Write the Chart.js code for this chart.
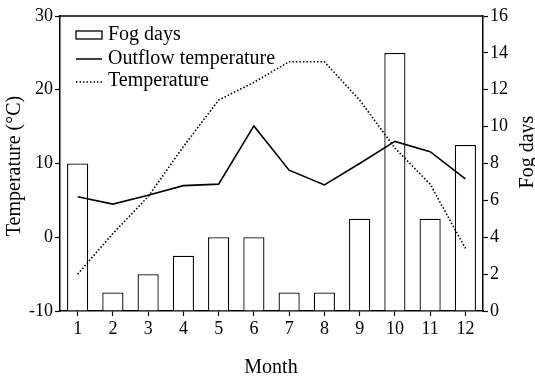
<!DOCTYPE html>
<html>
<head>
<meta charset="utf-8">
<script src="https://cdn.jsdelivr.net/npm/chart.js@4/dist/chart.umd.min.js"></script>
<style>
  html, body { margin: 0; padding: 0; background: #fff; }
  #wrap { width: 535px; height: 380px; }
</style>
</head>
<body>
<div id="wrap"><canvas id="fogChart" width="535" height="380"></canvas></div>
<script>
const months = ['1', '2', '3', '4', '5', '6', '7', '8', '9', '10', '11', '12'];
const fogDays = [8, 1, 2, 3, 4, 4, 1, 1, 5, 14, 5, 9];
const outflowTemp = [5.5, 4.5, 5.7, 7, 7.2, 15.1, 9.1, 7.1, 10, 13, 11.6, 7.9];
const airTemp = [-5, 0.5, 5.5, 12.3, 18.6, 21, 23.8, 23.8, 18.6, 12.1, 7.2, -1.5];
const tempTicks = [-10, 0, 10, 20, 30];
const fogTicks = [0, 2, 4, 6, 8, 10, 12, 14, 16];

const serif = '"Liberation Serif", "DejaVu Serif", serif';

// top border, legend and axis titles drawn by hand
const boxAndLegend = {
  id: 'boxAndLegend',
  afterDraw(chart) {
    const c = chart.ctx;
    const a = chart.chartArea;
    c.save();
    c.strokeStyle = '#000';
    c.lineWidth = 1.5;
    c.beginPath();
    c.moveTo(a.left, a.top);
    c.lineTo(a.right, a.top);
    c.stroke();

    const x0 = 76, x1 = 102, tx = 108;
    c.font = '20px ' + serif;
    c.fillStyle = '#000';
    c.textBaseline = 'middle';
    c.lineWidth = 1.3;
    c.strokeRect(x0, 31, x1 - x0, 8);
    c.fillText('Fog days', tx, 35);
    c.lineWidth = 1.5;
    c.beginPath(); c.moveTo(x0, 59); c.lineTo(x1, 59); c.stroke();
    c.fillText('Outflow temperature', tx, 59);
    c.setLineDash([1.5, 2]);
    c.beginPath(); c.moveTo(x0, 82); c.lineTo(x1, 82); c.stroke();
    c.setLineDash([]);
    c.fillText('Temperature', tx, 81);

    // axis titles
    c.textAlign = 'center';
    c.fillText('Month', 271, 368);
    c.save();
    c.translate(15, 166);
    c.rotate(-Math.PI / 2);
    c.fillText('Temperature (°C)', 0, 0);
    c.restore();
    c.save();
    c.translate(528, 152);
    c.rotate(-Math.PI / 2);
    c.fillText('Fog days', 0, 0);
    c.restore();
    c.restore();
  }
};

new Chart(document.getElementById('fogChart'), {
  type: 'bar',
  data: {
    labels: months,
    datasets: [
      {
        label: 'Outflow temperature',
        type: 'line',
        data: outflowTemp,
        yAxisID: 'y',
        borderColor: '#000',
        borderWidth: 1.6,
        pointRadius: 0,
        tension: 0,
        order: 1
      },
      {
        label: 'Temperature',
        type: 'line',
        data: airTemp,
        yAxisID: 'y',
        borderColor: '#000',
        borderWidth: 1.6,
        borderDash: [1.5, 2],
        pointRadius: 0,
        tension: 0,
        order: 1
      },
      {
        label: 'Fog days',
        data: fogDays,
        yAxisID: 'y2',
        backgroundColor: '#fff',
        borderColor: '#000',
        borderWidth: 1.3,
        barPercentage: 0.6,
        categoryPercentage: 1.0,
        order: 2
      }
    ]
  },
  options: {
    responsive: false,
    animation: false,
    layout: { padding: { top: 16, left: 0, right: 0, bottom: 0 } },
    plugins: { legend: { display: false }, tooltip: { enabled: false } },
    scales: {
      x: {
        offset: true,
        grid: { display: true, drawOnChartArea: false, offset: false, color: '#000', tickLength: 5, tickWidth: 1.2 },
        border: { color: '#000', width: 1.5 },
        ticks: { color: '#000', font: { family: serif, size: 18 }, padding: 2, maxRotation: 0 },
        afterFit(s) { s.height = 69; }
      },
      y: {
        position: 'left',
        min: -10,
        max: 30,
        afterBuildTicks(s) { s.ticks = tempTicks.map(v => ({ value: v })); },
        grid: { display: true, drawOnChartArea: false, color: '#000', tickLength: 5, tickWidth: 1.2 },
        border: { color: '#000', width: 1.5 },
        ticks: { color: '#000', font: { family: serif, size: 18 }, padding: 2 },
        afterFit(s) { s.width = 60; }
      },
      y2: {
        position: 'right',
        min: 0,
        max: 16,
        afterBuildTicks(s) { s.ticks = fogTicks.map(v => ({ value: v })); },
        grid: { display: true, drawOnChartArea: false, color: '#000', tickLength: 5, tickWidth: 1.2 },
        border: { color: '#000', width: 1.5 },
        ticks: { color: '#000', font: { family: serif, size: 18 }, padding: 2 },
        afterFit(s) { s.width = 52; }
      }
    }
  },
  plugins: [boxAndLegend]
});
</script>
</body>
</html>
